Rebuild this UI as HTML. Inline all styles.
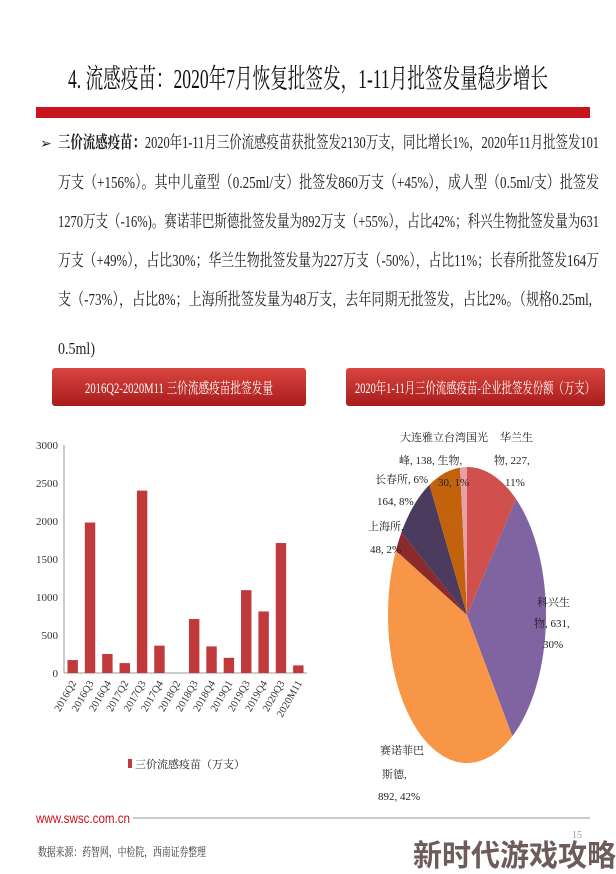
<!DOCTYPE html>
<html><head><meta charset="utf-8"><style>
html,body{margin:0;padding:0;background:#fff;}
svg{display:block;font-family:"Liberation Serif","Noto Serif CJK SC",serif;}
</style></head><body>
<svg width="616" height="874" viewBox="0 0 616 874" xmlns="http://www.w3.org/2000/svg">
<defs>
<linearGradient id="pg" x1="0" y1="0" x2="0" y2="1"><stop offset="0" stop-color="#d9453f"/><stop offset="1" stop-color="#a81c1c"/></linearGradient>
</defs>
<text x="68" y="88" font-size="27" textLength="480" lengthAdjust="spacingAndGlyphs" fill="#111">4. 流感疫苗：2020年7月恢复批签发，1-11月批签发量稳步增长</text>
<rect x="36" y="107" width="554" height="11" fill="#c8141c"/>
<g font-size="17" fill="#222">
<text x="40" y="148" font-size="14">➢</text>
<text x="58" y="148" textLength="541" lengthAdjust="spacingAndGlyphs"><tspan font-weight="bold">三价流感疫苗：</tspan>2020年1-11月三价流感疫苗获批签发2130万支，同比增长1%，2020年11月批签发101</text>
<text x="58" y="188" textLength="541" lengthAdjust="spacingAndGlyphs">万支（+156%）。其中儿童型（0.25ml/支）批签发860万支（+45%），成人型（0.5ml/支）批签发</text>
<text x="58" y="227" textLength="541" lengthAdjust="spacingAndGlyphs">1270万支（-16%)。赛诺菲巴斯德批签发量为892万支（+55%），占比42%；科兴生物批签发量为631</text>
<text x="58" y="266" textLength="541" lengthAdjust="spacingAndGlyphs">万支（+49%），占比30%；华兰生物批签发量为227万支（-50%），占比11%；长春所批签发164万</text>
<text x="58" y="305" textLength="534" lengthAdjust="spacingAndGlyphs">支（-73%），占比8%；上海所批签发量为48万支，去年同期无批签发，占比2%。（规格0.25ml,</text>
<text x="58" y="354" textLength="37" lengthAdjust="spacingAndGlyphs">0.5ml)</text>
</g>
<g>
<rect x="52" y="368" width="254" height="38" rx="3" fill="url(#pg)"/>
<text x="179" y="393" font-size="15" fill="#fff" text-anchor="middle" textLength="188" lengthAdjust="spacingAndGlyphs">2016Q2-2020M11 三价流感疫苗批签发量</text>
</g>
<g>
<rect x="346" y="368" width="259" height="38" rx="3" fill="url(#pg)"/>
<text x="475" y="393" font-size="15" fill="#fff" text-anchor="middle" textLength="240" lengthAdjust="spacingAndGlyphs">2020年1-11月三价流感疫苗-企业批签发份额（万支）</text>
</g>
<g id="bar-chart"></g>
<g id="pie-chart"></g>
<text x="36" y="823" font-family="Liberation Sans, sans-serif" font-size="14" fill="#c8141c" textLength="94" lengthAdjust="spacingAndGlyphs">www.swsc.com.cn</text>
<line x1="133" y1="818" x2="590" y2="818" stroke="#bbb" stroke-width="1.5"/>
<text x="38" y="856" font-size="12" fill="#333" textLength="168" lengthAdjust="spacingAndGlyphs">数据来源：药智网，中检院，西南证券整理</text>
<text x="572" y="838" font-size="10" fill="#999">15</text>
<text x="413" y="866" font-family="Liberation Sans, Noto Sans CJK SC, sans-serif" font-weight="bold" font-size="30" fill="#6e5c5c" textLength="203" lengthAdjust="spacingAndGlyphs">新时代游戏攻略</text>
</svg>
<script>
const categories=["2016Q2","2016Q3","2016Q4","2017Q2","2017Q3","2017Q4","2018Q2","2018Q3","2018Q4","2019Q1","2019Q3","2019Q4","2020Q3","2020M11"];
const values=[170,1980,250,130,2400,360,0,710,350,200,1090,810,1710,100];
const yTicks=[0,500,1000,1500,2000,2500,3000];
const pieLabels=["华兰生物","科兴生物","赛诺菲巴斯德","上海所","长春所","大连雅立峰","台湾国光生物"];
const pieValues=[227,631,892,48,164,138,30];
const NS="http://www.w3.org/2000/svg";
function mk(tag,attrs,parent,txt){const e=document.createElementNS(NS,tag);for(const k in attrs)e.setAttribute(k,attrs[k]);if(txt!==undefined)e.textContent=txt;parent.appendChild(e);return e;}
const bar=document.getElementById('bar-chart');
const x0=64,x1=307,yb=673,yt=445,ymax=3000;
const ys=v=>yb-(v/ymax)*(yb-yt);
const band=(x1-x0)/categories.length;
mk('line',{x1:x0,y1:yt,x2:x0,y2:yb,stroke:'#999'},bar);
mk('line',{x1:x0,y1:yb,x2:x1,y2:yb,stroke:'#999'},bar);
yTicks.forEach(t=>{
 const tl=mk('text',{x:x0-6,y:ys(t)+4,'font-size':11,'text-anchor':'end',fill:'#333'},bar,String(t));
 
 
});
categories.forEach((c,i)=>{
 const cx=x0+band*(i+0.5);
 const r=mk('rect',{x:cx-band*0.3,y:ys(values[i]),width:band*0.6,height:yb-ys(values[i]),fill:'#c0393b'},bar);
 
 
 const t=mk('text',{x:cx+4,y:yb+10,'font-size':10.5,'text-anchor':'end',fill:'#333',transform:`rotate(-60 ${cx+4} ${yb+10})`},bar,c);
 
 
});
const lg=mk('g',{},bar);


mk('rect',{x:128,y:759,width:4,height:9,fill:'#c0393b'},lg);
mk('text',{x:135,y:768,'font-size':11,fill:'#222'},lg,'三价流感疫苗（万支）');
const pie=document.getElementById('pie-chart');
const cx=467,cy=615,rx=79,ry=148;
const colors=['#d0504d','#8064a2','#f79646','#8b2a2a','#4b3b5e','#c2620c','#e8a0a8'];
const total=pieValues.reduce((a,b)=>a+b,0);
let acc=0;
pieValues.forEach((v,i)=>{
 const a0=acc/total*2*Math.PI;acc+=v;const a1=acc/total*2*Math.PI;
 const p0=[cx+rx*Math.sin(a0),cy-ry*Math.cos(a0)],p1=[cx+rx*Math.sin(a1),cy-ry*Math.cos(a1)];
 const large=(a1-a0)>Math.PI?1:0;
 const s=mk('path',{d:`M${cx},${cy}L${p0[0]},${p0[1]}A${rx},${ry} 0 ${large} 1 ${p1[0]},${p1[1]}Z`,fill:colors[i]},pie);
 
 
});
const pl=[
 ["华兰生",500,441],["物, 227,",494,464],["11%",505,486],
 ["科兴生",537,606],["物, 631,",534,627],["30%",543,648],
 ["赛诺菲巴",380,754],["斯德,",382,778],["892, 42%",378,800],
 ["上海所,",368,530],["48, 2%",370,553],
 ["长春所, 6%",375,483],["164, 8%",377,505],
 ["大连雅立台湾国光",400,441],["峰, 138, 生物,",399,464],["30, 1%",438,486]
];
pl.forEach(([t,x,y])=>{
 const e=mk('text',{x:x,y:y,'font-size':11,fill:'#222'},pie,t);
 
 
});
</script>
</body></html>
